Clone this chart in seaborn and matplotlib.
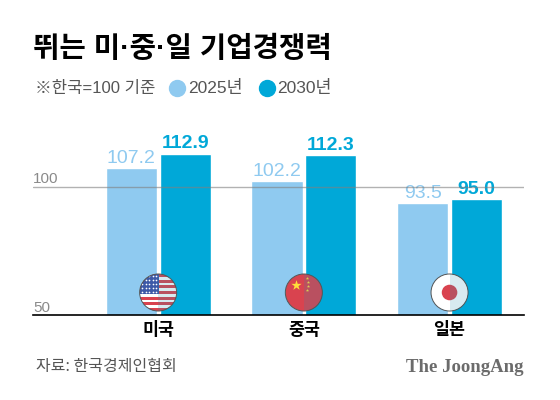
import numpy as np
import pandas as pd
import matplotlib.pyplot as plt
import seaborn as sns
from matplotlib.patches import Circle, Rectangle
from matplotlib.lines import Line2D

# ===== Data =====
countries = ["미국", "중국", "일본"]
years = ["2025년", "2030년"]
score_2025 = [107.2, 102.2, 93.5]
score_2030 = [112.9, 112.3, 95.0]
flag_kinds = ["us", "cn", "jp"]

LIGHT = "#8fcaf0"
DARK = "#00a8d8"
RED = "#d9434f"
FLAG_BLUE = "#3d5aa8"
KR_FONT = ["Noto Sans CJK KR", "DejaVu Sans"]
MIX_FONT = ["Liberation Sans", "Noto Sans CJK KR"]  # latin/dots narrow, hangul from CJK

df = pd.DataFrame({
    "country": countries * 2,
    "year": [years[0]] * 3 + [years[1]] * 3,
    "score": score_2025 + score_2030,
})

sns.set_theme(style="white")
plt.rcParams["font.family"] = KR_FONT

fig = plt.figure(figsize=(5.6, 4), dpi=100)
ax = fig.add_axes([33 / 560, 85 / 400, 491 / 560, 179.7 / 400])

sns.barplot(data=df, x="country", y="score", hue="year", order=countries,
            hue_order=years, palette=[LIGHT, DARK], width=0.74, gap=0.05,
            saturation=1, legend=False, ax=ax)

ax.set_ylim(50, 120)
ax.set_xlim(-0.859, 2.511)

# value labels
for cont, vals, col, wt in zip(ax.containers, [score_2025, score_2030],
                               [LIGHT, DARK], ["normal", "bold"]):
    ax.bar_label(cont, labels=[f"{v:.1f}" for v in vals], padding=1,
                 color=col, fontsize=14, fontweight=wt,
                 family="Liberation Sans")

# reference line and y labels
ax.axhline(100, color="#808080", lw=1, alpha=0.6, zorder=3)
for v in [50, 100]:
    ax.annotate(str(v), (0, v), xycoords=ax.get_yaxis_transform(),
                xytext=(0, 2.5), textcoords="offset points",
                ha="left", va="baseline", fontsize=11, color="#8a8a8a",
                family="Liberation Sans")
ax.set_yticks([])
ax.set_ylabel("")
ax.set_xlabel("")

for s in ["top", "left", "right"]:
    ax.spines[s].set_visible(False)
ax.spines["bottom"].set_color("black")
ax.spines["bottom"].set_linewidth(1.2)
ax.spines["bottom"].set_zorder(4)
ax.tick_params(axis="x", length=0, pad=4)
for lab in ax.get_xticklabels():
    lab.set_fontsize(12.5)
    lab.set_fontweight("bold")
    lab.set_color("black")


# ----------------------------
# Flags
# ----------------------------
def draw_flag(fa, kind):
    clip = Circle((0, 0), 1, transform=fa.transData)

    def add(p):
        fa.add_patch(p)
        p.set_clip_path(clip)

    if kind == "us":
        h = 2 / 13
        for i in range(13):
            add(Rectangle((-1, 1 - (i + 1) * h), 2, h,
                          color=RED if i % 2 == 0 else "white", lw=0))
        add(Rectangle((-1, 1 - 7 * h), 1.05, 7 * h, color=FLAG_BLUE, lw=0))
        sx, sy = np.meshgrid(np.linspace(-0.85, -0.1, 5),
                             np.linspace(0.05, 0.9, 5))
        pts = fa.scatter(sx.ravel(), sy.ravel(), s=1.5, color="white", lw=0)
        pts.set_clip_path(clip)
    elif kind == "cn":
        add(Circle((0, 0), 1, color=RED, lw=0))
        fa.scatter([-0.4], [0.42], marker="*", s=60, color="#ffde3a", lw=0)
        fa.scatter([0.15, 0.25, 0.25, 0.15], [0.8, 0.58, 0.36, 0.15],
                   marker="*", s=6, color="#ffde3a", lw=0)
    else:
        add(Circle((0, 0), 1, color="white", lw=0))
        add(Circle((0, 0), 0.42, color=RED, lw=0))

    add(Rectangle((0, -1), 1, 2, color="#2a8fb0", alpha=0.18, lw=0))
    fa.add_patch(Circle((0, 0), 1, fill=False, ec="#555555", lw=0.7))
    fa.set_xlim(-1.08, 1.08)
    fa.set_ylim(-1.08, 1.08)
    fa.set_aspect("equal")
    fa.axis("off")


px_x = 145.7
px_y = 2.567
fw = 40 / px_x
fh = 40 / px_y
fy = 50 + (315 - 292.5) / px_y
for i, kind in enumerate(flag_kinds):
    fa = ax.inset_axes([i - fw / 2, fy - fh / 2, fw, fh], transform=ax.transData)
    fa.patch.set_alpha(0)
    draw_flag(fa, kind)

# ----------------------------
# Header and footer
# ----------------------------
fig.text(33 / 560, 1 - 49 / 400, "뛰는 미·중·일 기업경쟁력", fontsize=20.7,
         fontweight="black", color="black", ha="left", va="center",
         family=MIX_FONT)
fig.text(35 / 560, 1 - 88 / 400, "※한국=100 기준", fontsize=12,
         color="#555555", ha="left", va="center", family=MIX_FONT)
for cx, tx, col, lab in [(177, 188, LIGHT, years[0]), (267, 277, DARK, years[1])]:
    fig.add_artist(Line2D([cx / 560], [1 - 88 / 400], marker="o", ms=11.5,
                          color=col, lw=0, transform=fig.transFigure))
    fig.text(tx / 560, 1 - 88 / 400, lab, fontsize=12.5, color="#555555",
             ha="left", va="center", family=MIX_FONT)

fig.text(36 / 560, 1 - 367 / 400, "자료: 한국경제인협회", fontsize=11.5,
         color="#555555", ha="left", va="center")
fig.text(523 / 560, 1 - 367 / 400, "The JoongAng", fontsize=13.5,
         fontweight="bold", color="#6b6b6b", family="Liberation Serif",
         ha="right", va="center")

fig.savefig("out.png", dpi=100)
